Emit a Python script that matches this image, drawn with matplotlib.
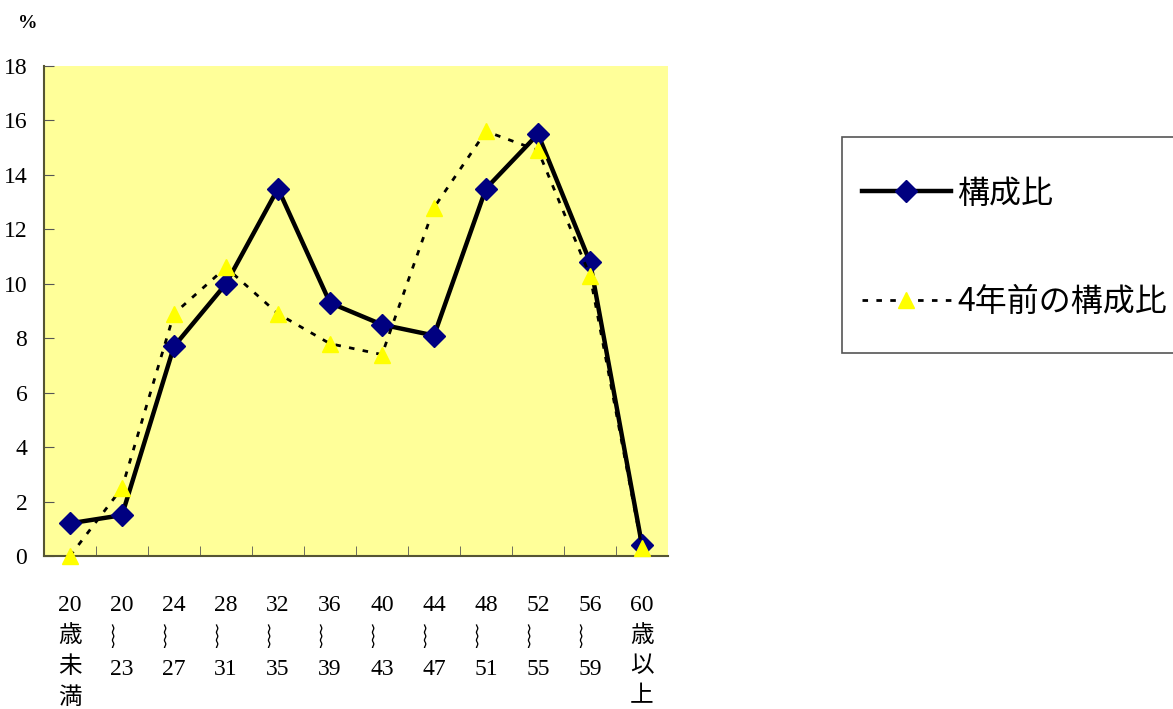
import matplotlib.pyplot as plt
from matplotlib.patches import Rectangle

# age groups (x categories)
age_labels = [
    "20\n歳\n未\n満", "20\n︴\n23", "24\n︴\n27", "28\n︴\n31", "32\n︴\n35",
    "36\n︴\n39", "40\n︴\n43", "44\n︴\n47", "48\n︴\n51", "52\n︴\n55",
    "56\n︴\n59", "60\n歳\n以\n上",
]
ratio_now = [1.2, 1.5, 7.7, 10.0, 13.5, 9.3, 8.5, 8.1, 13.5, 15.5, 10.8, 0.4]
ratio_4y_ago = [0.0, 2.5, 8.9, 10.6, 8.9, 7.8, 7.4, 12.8, 15.6, 14.9, 10.3, 0.3]
y_ticks = [0, 2, 4, 6, 8, 10, 12, 14, 16, 18]

serif = ['Liberation Serif', 'Noto Sans CJK JP', 'DejaVu Sans']
sans = ['Noto Sans CJK JP', 'DejaVu Sans']

fig = plt.figure(figsize=(11.73, 7.09), dpi=100)
ax = fig.add_axes([44 / 1173, 1 - 556 / 709, 624 / 1173, 490 / 709])
ax.set_facecolor('#FFFF99')

x = list(range(len(age_labels)))
ax.plot(x, ratio_now, color='black', lw=3.2, marker='D', markersize=11,
        markerfacecolor='#000080', markeredgecolor='#000080',
        label='構成比', clip_on=False, zorder=3)
ax.plot(x, ratio_4y_ago, color='black', lw=2, linestyle=(0, (2, 3)), marker='^',
        markersize=11, markerfacecolor='#FFFF00', markeredgecolor='#FFFF00',
        label='4年前の構成比', clip_on=False, zorder=4)

ax.set_xlim(-0.5, len(age_labels) - 0.5)
ax.set_ylim(0, 18)
ax.set_yticks(y_ticks)
ax.set_yticklabels([str(v) for v in y_ticks], fontsize=17, family=serif)

# category labels centred, tick marks on the boundaries
ax.set_xticks(x)
ax.set_xticklabels(age_labels, fontsize=17, family=serif, linespacing=1.55, va='top')
ax.tick_params(axis='x', which='major', length=0, pad=28)
ax.set_xticks([i + 0.5 for i in x[:-1]], minor=True)
ax.tick_params(axis='x', which='minor', direction='in', length=7, color='#555555')
ax.tick_params(axis='y', direction='in', length=7, color='#555555', pad=12)

for s in ['top', 'right']:
    ax.spines[s].set_visible(False)
for s in ['left', 'bottom']:
    ax.spines[s].set_color('#555533')
    ax.spines[s].set_linewidth(1.5)

fig.text(28 / 1173, 1 - 24 / 709, '%', fontsize=14, family=serif, ha='center', va='center',
         fontweight='bold')

# legend box (runs off the right edge as in the original)
fig.patches.append(Rectangle((842 / 1173, 1 - 353 / 709), 340 / 1173, 216 / 709,
                             transform=fig.transFigure, facecolor='white',
                             edgecolor='#555555', lw=1.2, zorder=0))
leg = fig.legend(loc='center left', bbox_to_anchor=(852 / 1173, 1 - 248 / 709),
                 prop={'family': sans, 'size': 23}, frameon=False,
                 handlelength=2.8, handletextpad=0.2, labelspacing=2.4,
                 borderpad=0.3, borderaxespad=0)

fig.savefig('out.png', dpi=100, facecolor='white')
